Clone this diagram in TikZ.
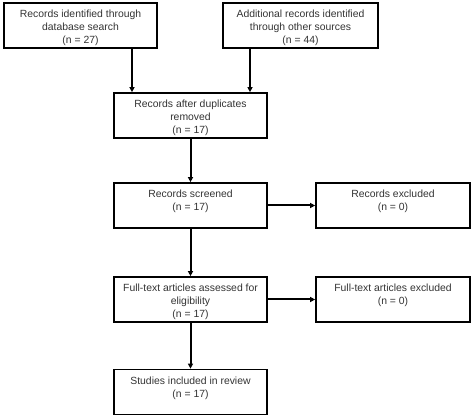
\documentclass[tikz,border=0pt]{standalone}
\usepackage{fontspec}
\setmainfont{Liberation Sans}
\usetikzlibrary{arrows.meta}

\tikzset{
  box/.style={draw, line width=1.7pt, inner sep=3pt, font=\fontsize{10.4}{13}\selectfont, text=black!80},
  arr/.style={line width=2pt, -{Triangle[length=5pt,width=5pt]}}
}
% top-aligned box content
\newcommand{\boxtext}[2]{\parbox[c][39pt][t]{#1}{\centering\vspace{4pt}#2}}

\begin{document}
\begin{tikzpicture}[x=1pt,y=1pt]
        \useasboundingbox (0,0) rectangle (474,-419);

        \node[box] (db) at (80.5,-25.5) {\boxtext{147pt}{Records identified through\\database search\\(n = 27)}};
        \node[box] (other) at (300.5,-25.5) {\boxtext{149pt}{Additional records identified\\through  other sources\\(n = 44)}};
        \node[box] (dup) at (190.5,-115.5) {\boxtext{147pt}{Records after duplicates\\removed\\(n = 17)}};
        \node[box] (screen) at (190.5,-205.5) {\boxtext{147pt}{Records screened\\(n = 17)}};
        \node[box] (excl) at (393,-205.5) {\boxtext{148pt}{Records excluded\\(n = 0)}};
        \node[box] (full) at (190.5,-299.5) {\boxtext{147pt}{Full-text  articles assessed for\\eligibility\\(n = 17)}};
        \node[box] (fexcl) at (393,-299.5) {\boxtext{148pt}{Full-text  articles excluded\\(n = 0)}};
        \node[box] (incl) at (190.5,-392) {\boxtext{147pt}{Studies included in review\\(n = 17)}};

        \draw[arr] ([xshift=51.5]db.south) -- ([xshift=51.5]db.south |- dup.north);
        \draw[arr] ([xshift=-50.5]other.south) -- ([xshift=-50.5]other.south |- dup.north);
        \draw[arr] (dup) -- (screen);
        \draw[arr] (screen) -- (excl);
        \draw[arr] (screen) -- (full);
        \draw[arr] (full) -- (fexcl);
        \draw[arr] (full) -- (incl);
    \end{tikzpicture}
\end{document}
